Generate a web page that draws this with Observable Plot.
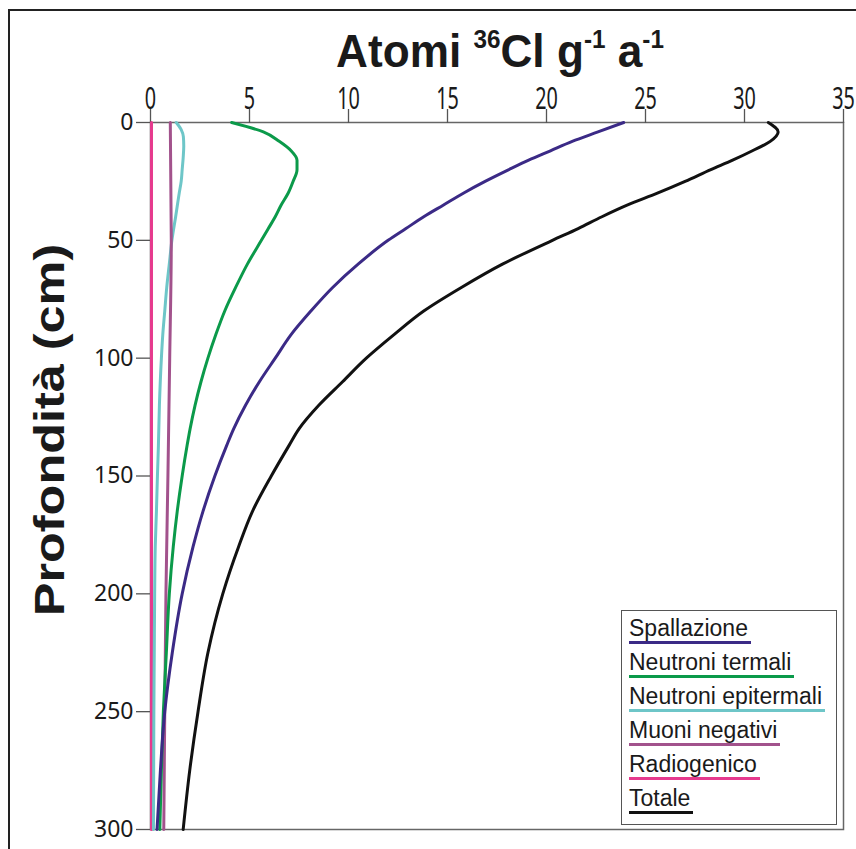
<!DOCTYPE html>
<html>
<head>
<meta charset="utf-8">
<script src="https://cdn.jsdelivr.net/npm/d3@7"></script>
<script src="https://cdn.jsdelivr.net/npm/@observablehq/plot@0.6"></script>
<style>
  html, body { margin: 0; padding: 0; background: #fff; }
  #wrap { position: relative; width: 856px; height: 849px; overflow: hidden; font-family: "Liberation Sans", Arial, sans-serif; background:#fff; }
  #border { position: absolute; left: 8px; top: 9px; width: 900px; height: 900px; border: 2px solid #222; box-sizing: border-box; }
  #chart { position: absolute; left: 0; top: 0; }
  #title { position: absolute; left: 250px; width: 500px; top: 27px; text-align: center; font-weight: bold; font-size: 46px; color: #1a1a1a; white-space: nowrap; line-height: 1; transform: scaleX(0.96); transform-origin: 250px 0; }
  #title sup { font-size: 0.55em; vertical-align: 0.75em; }
  #ylabel { position: absolute; left: 50px; top: 430px; transform: translate(-50%, -50%) rotate(-90deg) scaleX(1.2); font-weight: bold; font-size: 42px; color: #1a1a1a; white-space: nowrap; line-height: 1; }
  #legend { position: absolute; left: 621px; top: 610px; width: 216px; height: 215px; border: 1.5px solid #555; box-sizing: border-box; background: #fff; padding: 5px 0 0 7px; }
  #legend .item { height: 34px; }
  #legend .lab { display: inline-block; font-size: 23px; color: #1a1a1a; padding-right: 3px; border-bottom: 3px solid; line-height: 1.1; }
</style>
</head>
<body>
<div id="wrap">
  <div id="border"></div>
  <div id="chart"></div>
  <div id="title">Atomi <sup>36</sup>Cl g<sup>-1</sup> a<sup>-1</sup></div>
  <div id="ylabel">Profondità (cm)</div>
  <div id="legend"></div>
</div>
<script>
// ---- data ----
const seriesNames = ["Spallazione", "Neutroni termali", "Neutroni epitermali", "Muoni negativi", "Radiogenico", "Totale"];
const seriesColors = ["#3b2a86", "#0b9a4a", "#6ec6c8", "#a2528c", "#e63a8e", "#111111"];

const xTicks = [0, 5, 10, 15, 20, 25, 30, 35];
const yTicks = [0, 50, 100, 150, 200, 250, 300];

// depth grid (cm) for the main curves
const depths = [0, 4, 8, 12, 16, 20, 25, 30, 35, 40, 45, 50, 60, 70, 80, 90, 100, 110, 120, 130, 137, 150, 165, 180, 200, 225, 250, 275, 300];
const spallazione = [23.9, 22.6, 21.3, 20.2, 19.1, 18.1, 16.9, 15.8, 14.8, 13.8, 12.9, 12.0, 10.5, 9.2, 8.1, 7.1, 6.3, 5.5, 4.8, 4.2, 3.85, 3.25, 2.65, 2.15, 1.6, 1.1, 0.72, 0.5, 0.33];
const termali     = [4.1, 5.7, 6.5, 7.1, 7.4, 7.4, 7.2, 6.95, 6.6, 6.3, 5.95, 5.6, 4.9, 4.3, 3.75, 3.3, 2.9, 2.55, 2.25, 2.0, 1.85, 1.6, 1.35, 1.15, 0.95, 0.8, 0.65, 0.55, 0.47];
const totale      = [31.2, 31.7, 31.3, 30.4, 29.4, 28.3, 27.0, 25.6, 24.1, 22.8, 21.6, 20.3, 17.8, 15.7, 13.8, 12.3, 10.9, 9.7, 8.5, 7.5, 7.0, 6.1, 5.15, 4.45, 3.65, 2.9, 2.4, 1.98, 1.65];

const epiDepths   = [0, 3, 6, 10, 15, 20, 25, 30, 40, 50, 60, 70, 80, 90, 100, 120, 137, 150, 165, 180, 200, 225, 250, 275, 300];
const epitermali  = [1.3, 1.55, 1.66, 1.68, 1.65, 1.6, 1.55, 1.45, 1.27, 1.08, 0.95, 0.82, 0.72, 0.62, 0.55, 0.45, 0.4, 0.35, 0.3, 0.24, 0.21, 0.19, 0.17, 0.16, 0.15];

const muoDepths   = [0, 50, 100, 150, 200, 250, 300];
const muoni       = [1.0, 1.05, 0.97, 0.88, 0.78, 0.72, 0.67];

const radDepths   = [0, 300];
const radiogenico = [0.05, 0.05];

// ---- build table ----
const table = [];
function add(name, ds, vs) { ds.forEach((d, i) => table.push({ series: name, depth: d, value: vs[i] })); }
add("Radiogenico", radDepths, radiogenico);
add("Neutroni epitermali", epiDepths, epitermali);
add("Muoni negativi", muoDepths, muoni);
add("Neutroni termali", depths, termali);
add("Spallazione", depths, spallazione);
add("Totale", depths, totale);

const chart = Plot.plot({
  width: 856,
  height: 849,
  marginLeft: 150,
  marginRight: 13,
  marginTop: 122,
  marginBottom: 20,
  style: { background: "transparent", color: "#1a1a1a" },
  x: { domain: [0, 35], label: null },
  y: { domain: [0, 300], reverse: true, label: null },
  color: { domain: seriesNames, range: seriesColors },
  marks: [
    Plot.frame({ stroke: "#666", strokeWidth: 1.5 }),
    Plot.axisX({ anchor: "top", ticks: xTicks, tickSize: 14, tickPadding: 0, fontSize: 30, stroke: "#555", strokeWidth: 1.3, label: null }),
    Plot.axisY({ anchor: "left", ticks: yTicks, tickSize: 14, tickPadding: 3, fontSize: 23, stroke: "#555", strokeWidth: 1.3, label: null }),
    Plot.line(table, { x: "value", y: "depth", z: "series", stroke: "series", strokeWidth: 3, curve: "monotone-y" })
  ]
});
document.getElementById("chart").appendChild(chart);

// condensed x tick labels
chart.querySelectorAll('g[aria-label="x-axis tick label"] text').forEach(t => {
  const tr = t.getAttribute("transform") || "";
  t.setAttribute("transform", tr + " scale(0.66,1)");
});

// legend
const legend = document.getElementById("legend");
seriesNames.forEach((n, i) => {
  const item = document.createElement("div");
  item.className = "item";
  const lab = document.createElement("span");
  lab.className = "lab";
  lab.textContent = n;
  lab.style.borderBottomColor = seriesColors[i];
  item.appendChild(lab);
  legend.appendChild(item);
});
</script>
</body>
</html>
